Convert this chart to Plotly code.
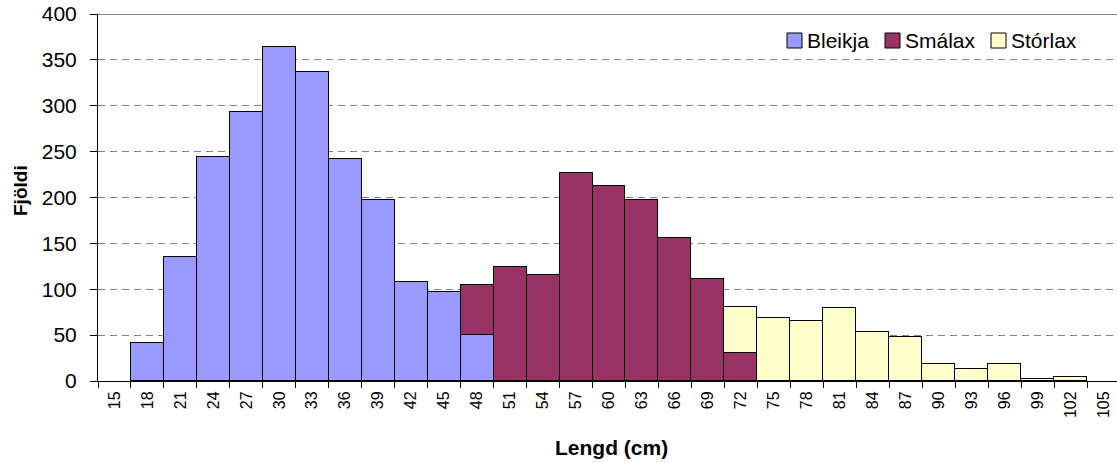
import plotly.graph_objects as go

categories = [str(v) for v in range(15, 106, 3)]
bleikja = [None, 41, 135, 244, 293, 364, 337, 242, 197, 108, 97, 50] + [None] * 19
smalax = [None] * 11 + [55, 124, 115, 227, 212, 197, 156, 111, 31] + [None] * 11
storlax = [None] * 19 + [50, 69, 65, 80, 53, 48, 18, 13, 18, 2, 4, None]

series = [("Bleikja", bleikja, "#9999FF"),
          ("Smálax", smalax, "#993366"),
          ("Stórlax", storlax, "#FFFFCC")]

W, H = 1117, 463
L, T, B = 98, 14, 82

fig = go.Figure()
for name, vals, col in series:
    fig.add_trace(go.Bar(x=categories, y=vals, name=name, showlegend=False,
                         marker=dict(color=col, line=dict(color="black", width=1))))

fig.update_layout(
    width=W, height=H,
    margin=dict(l=L, r=0, t=T, b=B, pad=0),
    barmode="stack", bargap=0,
    plot_bgcolor="white", paper_bgcolor="white",
    font=dict(family="Liberation Sans, Arial, sans-serif", color="black"),
    showlegend=False,
    xaxis=dict(type="category", range=[-0.5, 30.41], showline=True, linecolor="black",
               linewidth=1, ticks="outside", tickson="boundaries", ticklen=6,
               tickcolor="black", tickangle=-90, tickfont=dict(size=16), showgrid=False,
               automargin=False, ticklabelstandoff=3),
    yaxis=dict(range=[0, 400], dtick=50, showline=True, linecolor="black", linewidth=1,
               ticks="outside", ticklen=7, tickcolor="black", tickfont=dict(size=21),
               showgrid=True, gridcolor="#808080", griddash="7px,5px", gridwidth=1,
               zeroline=False, automargin=False, ticklabelstandoff=9),
)
fig.add_shape(type="line", xref="paper", yref="y", x0=0, x1=1, y0=400, y1=400,
              line=dict(color="#888888", width=2))

# pixel -> paper coordinate helpers
pw = W - L
ph = H - T - B
def px_x(x):
    return (x - L) / pw
def px_y(y):
    return (H - B - y) / ph

# axis titles
fig.add_annotation(xref="paper", yref="paper", x=px_x(611), y=px_y(447),
                   text="<b>Lengd (cm)</b>", showarrow=False,
                   xanchor="center", yanchor="middle", font=dict(size=21))
fig.add_annotation(xref="paper", yref="paper", x=px_x(20), y=px_y(191),
                   text="<b>Fjöldi</b>", showarrow=False, textangle=-90,
                   xanchor="center", yanchor="middle", font=dict(size=19))

# custom legend
legend_pos = [787, 885, 991]
for (name, _, col), sx in zip(series, legend_pos):
    fig.add_shape(type="rect", xref="paper", yref="paper",
                  x0=px_x(sx), x1=px_x(sx + 15), y0=px_y(48), y1=px_y(33),
                  fillcolor=col, line=dict(color="black", width=1))
    fig.add_annotation(xref="paper", yref="paper", x=px_x(sx + 18), y=px_y(40),
                       text=name, showarrow=False, xanchor="left", yanchor="middle",
                       font=dict(size=21))

fig.write_html("out.html", config={"displayModeBar": False},
               post_script="document.body.style.margin='0';document.body.style.overflow='hidden';")
